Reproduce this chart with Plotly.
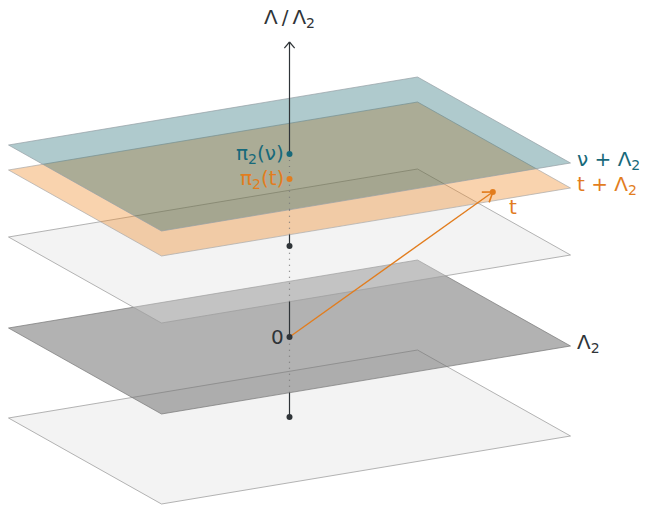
import math
import plotly.graph_objects as go

# ---------------- data (abstract diagram coordinates) ----------------
# planes: (u, w) in [-1, 1]^2 at height h
plane_names = ["bottom", "Λ<sub>2</sub>", "middle", "t + Λ<sub>2</sub>", "ν + Λ<sub>2</sub>"]
plane_heights = [-90, 0, 91, 158, 183]
lattice_heights = [-80, 0, 91]          # points of Λ/Λ2 on the axis
pi2_t_height = 158
pi2_nu_height = 183
axis_top_height = 295
t_point = (0.84, 0.68, 158)             # (u, w, h) of t

# ---------------- styling / projection ----------------
ORIGIN = (289.5, 337.0)
A = (76.5, 43.0)      # half of left->front edge
B = (204.5, -34.0)    # half of left->back edge

plane_fills = ["rgba(223,223,223,0.38)", "rgba(115,115,115,0.55)", "rgba(223,223,223,0.38)",
               "rgba(240,135,35,0.37)", "rgba(5,89,99,0.32)"]
plane_edges = ["rgba(160,160,160,0.8)", "rgba(120,120,120,0.7)", "rgba(160,160,160,0.8)",
               "rgba(170,170,170,0.7)", "rgba(150,160,165,0.7)"]
TEAL = "#17697a"
ORANGE = "#e27d1e"
DARK = "#2f3438"
FONT = "DejaVu Sans"


def proj(u, w, h):
    return (ORIGIN[0] + u * A[0] + w * B[0], ORIGIN[1] + u * A[1] + w * B[1] - h)


fig = go.Figure()

# planes, bottom first
for h, fc, ec in zip(plane_heights, plane_fills, plane_edges):
    corners = [(-1, -1), (1, -1), (1, 1), (-1, 1), (-1, -1)]
    pts = [proj(u, w, h) for u, w in corners]
    fig.add_trace(go.Scatter(x=[p[0] for p in pts], y=[p[1] for p in pts], mode="lines",
                             fill="toself", fillcolor=fc, line=dict(color=ec, width=1),
                             hoverinfo="skip", showlegend=False))

# vertical axis: hidden parts (just below a plane) are dotted
ext = abs(A[1] - A[0] * B[1] / B[0])
hidden = sorted((H - ext, H) for H in plane_heights)
h_lo, h_hi = min(lattice_heights), axis_top_height
cuts = sorted(set([h_lo, h_hi] + [v for iv in hidden for v in iv if h_lo < v < h_hi]))
solid_y, dot_y = [], []
for a, b in zip(cuts[:-1], cuts[1:]):
    mid = (a + b) / 2
    is_hidden = any(lo < mid < hi for lo, hi in hidden)
    seg = [proj(0, 0, a)[1], proj(0, 0, b)[1], None]
    (dot_y if is_hidden else solid_y).extend(seg)
ax_x = ORIGIN[0]
fig.add_trace(go.Scatter(x=[ax_x if v is not None else None for v in dot_y], y=dot_y, mode="lines",
                         line=dict(color="#7a7a7a", width=1.2, dash="1px,5px"),
                         hoverinfo="skip", showlegend=False))
fig.add_trace(go.Scatter(x=[ax_x if v is not None else None for v in solid_y], y=solid_y, mode="lines",
                         line=dict(color=DARK, width=1.2), hoverinfo="skip", showlegend=False))


def barbs(tip, direction, length, angle_deg):
    dx, dy = direction
    n = math.hypot(dx, dy)
    dx, dy = dx / n, dy / n
    xs, ys = [], []
    for s in (1, -1):
        a = math.radians(angle_deg) * s
        rx = dx * math.cos(a) - dy * math.sin(a)
        ry = dx * math.sin(a) + dy * math.cos(a)
        xs += [tip[0] - length * rx, tip[0], None]
        ys += [tip[1] - length * ry, tip[1], None]
    return xs, ys


# axis arrow head
top = proj(0, 0, axis_top_height)
bx, by = barbs(top, (0, -1), 8, 40)
fig.add_trace(go.Scatter(x=bx, y=by, mode="lines", line=dict(color=DARK, width=1.2),
                         hoverinfo="skip", showlegend=False))

# vector t
o = proj(0, 0, 0)
tp = proj(*t_point)
fig.add_trace(go.Scatter(x=[o[0], tp[0]], y=[o[1], tp[1]], mode="lines",
                         line=dict(color=ORANGE, width=1.4), hoverinfo="skip", showlegend=False))
bx, by = barbs(tp, (tp[0] - o[0], tp[1] - o[1]), 11, 35)
fig.add_trace(go.Scatter(x=bx, y=by, mode="lines", line=dict(color=ORANGE, width=1.6),
                         hoverinfo="skip", showlegend=False))

# dots
lat = [proj(0, 0, h) for h in lattice_heights]
fig.add_trace(go.Scatter(x=[p[0] for p in lat], y=[p[1] for p in lat], mode="markers",
                         marker=dict(color=DARK, size=6), hoverinfo="skip", showlegend=False))
pn = proj(0, 0, pi2_nu_height)
pt = proj(0, 0, pi2_t_height)
fig.add_trace(go.Scatter(x=[pn[0]], y=[pn[1]], mode="markers", marker=dict(color=TEAL, size=6),
                         hoverinfo="skip", showlegend=False))
fig.add_trace(go.Scatter(x=[pt[0], tp[0]], y=[pt[1], tp[1]], mode="markers",
                         marker=dict(color=ORANGE, size=6), hoverinfo="skip", showlegend=False))

# labels
ann = []


def label(x, y, text, color, xanchor="left", size=20):
    ann.append(dict(x=x, y=y, text=text, showarrow=False, xanchor=xanchor, yanchor="middle",
                    font=dict(family=FONT, size=size, color=color)))


label(top[0], top[1] - 24, "Λ\u2009/\u2009Λ<sub>2</sub>", DARK, "center")
label(pn[0] - 4, pn[1], "π<sub>2</sub>(ν)", TEAL, "right")
label(pt[0] - 4, pt[1], "π<sub>2</sub>(t)", ORANGE, "right")
label(o[0] - 4, o[1], "0", DARK, "right")
label(tp[0] + 14, tp[1] + 15, "t", ORANGE, "left")
right_cols = {1: DARK, 3: ORANGE, 4: TEAL}
for i, col in right_cols.items():
    rv = proj(1, 1, plane_heights[i])
    label(rv[0] + 4, rv[1] - 3, plane_names[i], col, "left")

fig.update_layout(
    width=649, height=506, margin=dict(l=0, r=0, t=0, b=0, pad=0),
    plot_bgcolor="white", paper_bgcolor="white",
    xaxis=dict(range=[0, 649], visible=False, fixedrange=True),
    yaxis=dict(range=[506, 0], visible=False, fixedrange=True),
    annotations=ann, showlegend=False,
)
fig.write_html("out.html", config={"displayModeBar": False},
               post_script="document.body.style.margin='0';document.body.style.padding='0';")
